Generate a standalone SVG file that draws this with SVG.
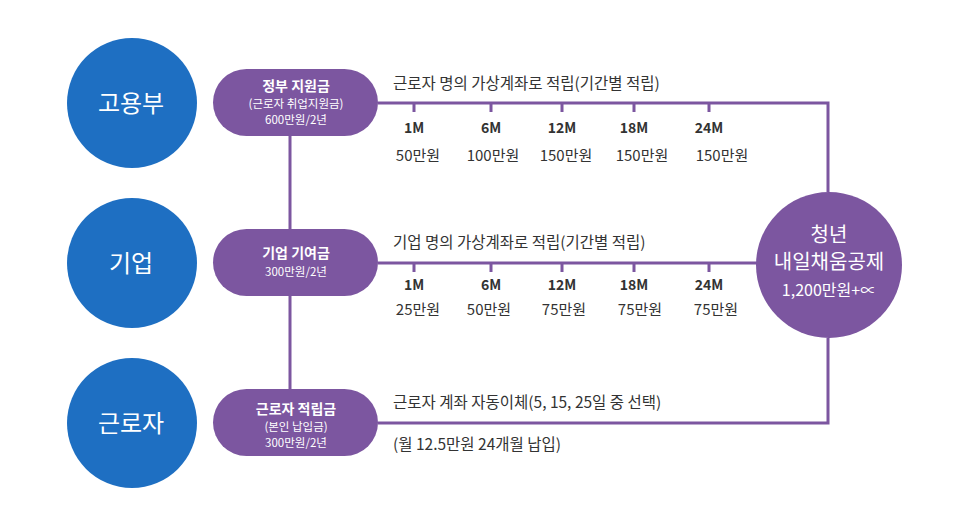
<svg xmlns="http://www.w3.org/2000/svg" width="969" height="524" viewBox="0 0 969 524">
<style>
.blue{fill:#1e6fc2}
.pill{fill:#7c56a0}
.ln{stroke:#7c56a0;stroke-width:3;fill:none}
.tk{stroke:#7c56a0;stroke-width:3}
text{font-family:"Noto Sans CJK KR","Noto Sans",sans-serif}
.w{fill:#fff;text-anchor:middle}
.big{font-size:24px}
.pt{font-size:14px;font-weight:bold}
.ps{font-size:11.5px}
.t{fill:#333;font-size:15.5px}
.m{fill:#333;font-size:14px;font-weight:bold;text-anchor:middle}
.a{fill:#333;font-size:15px;text-anchor:middle}
</style>
<rect width="969" height="524" fill="#fff"/>
<g id="connectors">
<path class="ln" d="M290 136 V229 M290 296 V389"/>
<path class="ln" d="M378 103 H828 V192"/>
<path class="ln" d="M378 263 H757"/>
<path class="ln" d="M378 423 H828 V338"/>
<path class="tk" d="M414 103 V112 M491 103 V112 M562 103 V112 M634 103 V112 M709 103 V112"/>
<path class="tk" d="M414 263 V272 M491 263 V272 M562 263 V272 M634 263 V272 M709 263 V272"/>
</g>
<g id="node-goyongbu"><circle class="blue" cx="132" cy="103" r="65"/><text class="w big" x="131" y="112">고용부</text></g>
<g id="node-gieop"><circle class="blue" cx="132" cy="263" r="65"/><text class="w big" x="131" y="272">기업</text></g>
<g id="node-geunroja"><circle class="blue" cx="132" cy="423" r="65"/><text class="w big" x="131" y="432">근로자</text></g>
<g id="node-gov"><rect class="pill" x="213" y="69" width="165" height="67" rx="33.5"/>
<text class="w pt" x="296" y="91">정부 지원금</text>
<text class="w ps" x="296" y="108">(근로자 취업지원금)</text>
<text class="w ps" x="296" y="124">600만원/2년</text></g>
<g id="node-corp"><rect class="pill" x="213" y="229" width="165" height="67" rx="33.5"/>
<text class="w pt" x="296" y="258">기업 기여금</text>
<text class="w ps" x="296" y="276">300만원/2년</text></g>
<g id="node-worker"><rect class="pill" x="213" y="389" width="165" height="67" rx="33.5"/>
<text class="w pt" x="296" y="414">근로자 적립금</text>
<text class="w ps" x="296" y="431">(본인 납입금)</text>
<text class="w ps" x="296" y="447">300만원/2년</text></g>
<g id="node-fund"><circle class="pill" cx="829" cy="265" r="73"/>
<text class="w" x="829" y="242" font-size="20">청년</text>
<text class="w" x="829" y="269" font-size="20">내일채움공제</text>
<text class="w" x="829" y="296" font-size="16">1,200만원+∝</text></g>
<g id="labels">
<text class="t" x="393" y="89">근로자 명의 가상계좌로 적립(기간별 적립)</text>
<text class="m" x="414" y="133">1M</text><text class="m" x="491" y="133">6M</text><text class="m" x="562" y="133">12M</text><text class="m" x="634" y="133">18M</text><text class="m" x="709" y="133">24M</text>
<text class="a" x="418" y="161">50만원</text><text class="a" x="493" y="161">100만원</text><text class="a" x="566" y="161">150만원</text><text class="a" x="642" y="161">150만원</text><text class="a" x="722" y="161">150만원</text>
<text class="t" x="393" y="248">기업 명의 가상계좌로 적립(기간별 적립)</text>
<text class="m" x="414" y="290">1M</text><text class="m" x="491" y="290">6M</text><text class="m" x="562" y="290">12M</text><text class="m" x="634" y="290">18M</text><text class="m" x="709" y="290">24M</text>
<text class="a" x="418" y="315">25만원</text><text class="a" x="489" y="315">50만원</text><text class="a" x="564" y="315">75만원</text><text class="a" x="640" y="315">75만원</text><text class="a" x="716" y="315">75만원</text>
<text class="t" x="393" y="408">근로자 계좌 자동이체(5, 15, 25일 중 선택)</text>
<text class="t" x="393" y="450">(월 12.5만원 24개월 납입)</text>
</g>
</svg>
